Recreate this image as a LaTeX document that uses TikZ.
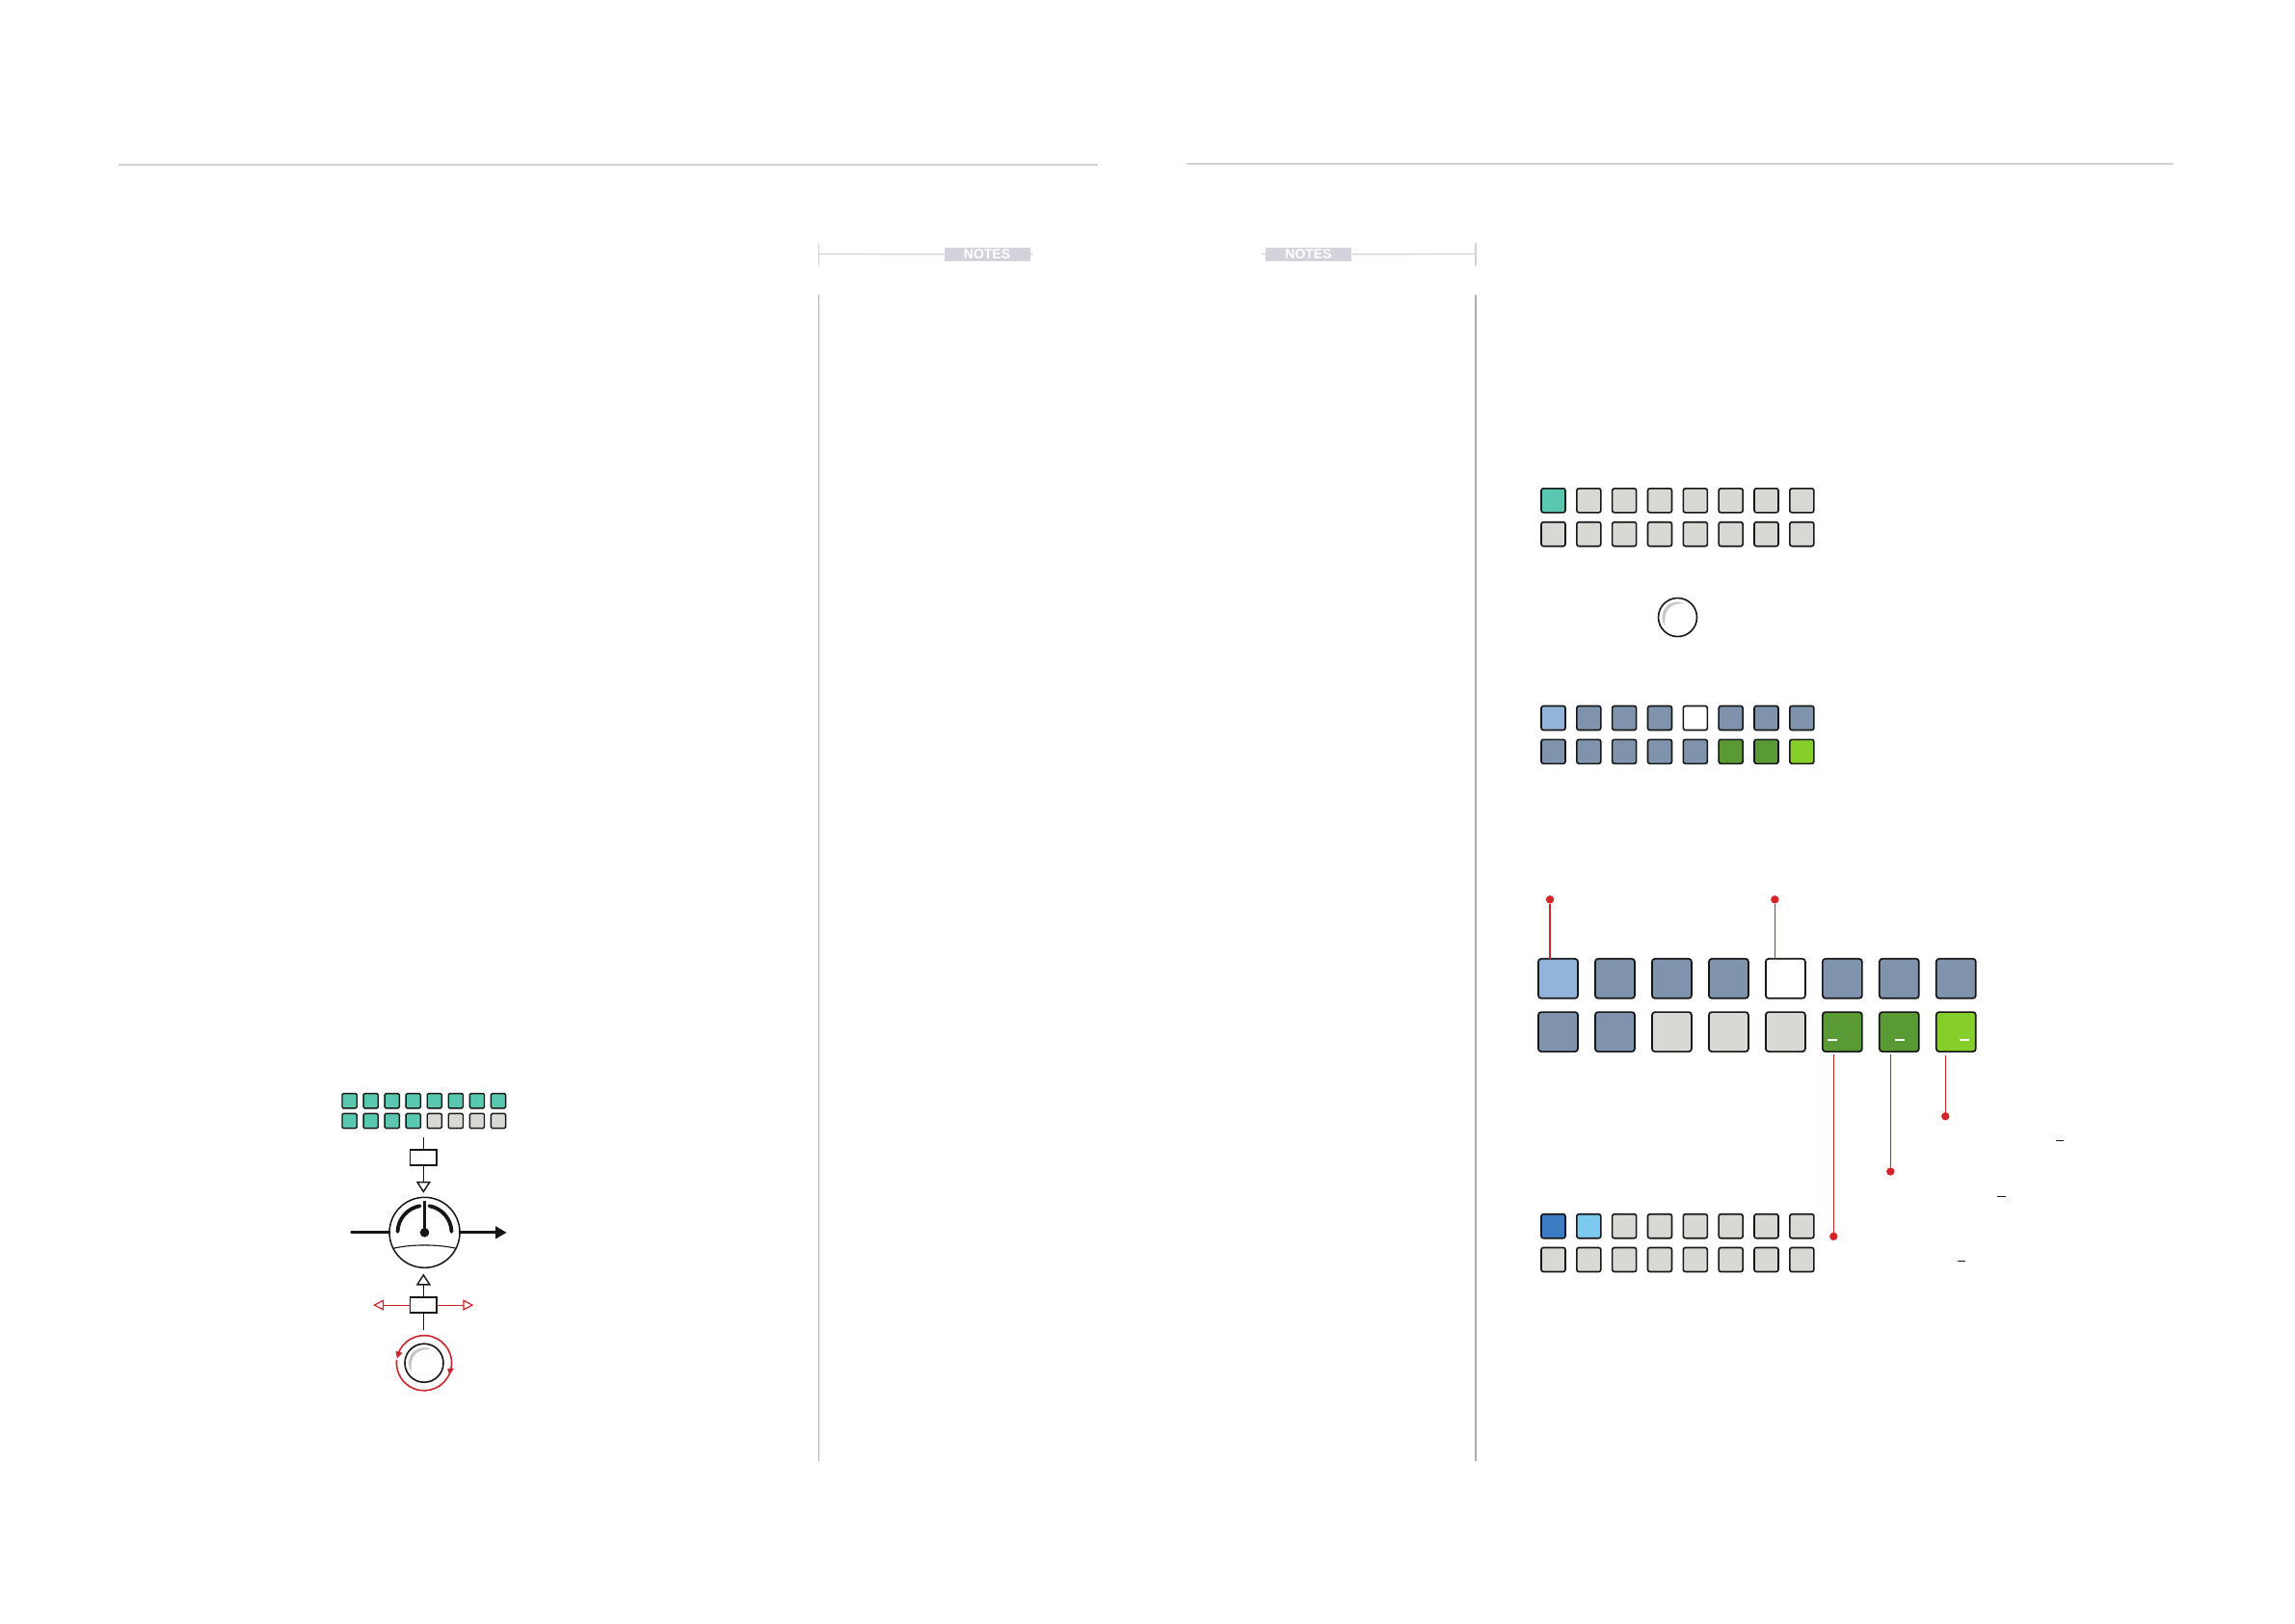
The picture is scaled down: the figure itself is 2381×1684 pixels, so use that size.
\documentclass[tikz,border=0pt]{standalone}
\usepackage{fontspec}
\setmainfont{Liberation Sans}
\definecolor{tealc}{HTML}{5AC8B0}
\definecolor{grayc}{HTML}{D9D8D5}
\definecolor{slatec}{HTML}{7F93AC}
\definecolor{paleb}{HTML}{92B3DA}
\definecolor{greenc}{HTML}{5A9A35}
\definecolor{limec}{HTML}{86CF2B}
\definecolor{bluec}{HTML}{3B7CC4}
\definecolor{skyc}{HTML}{7CCBEF}
\definecolor{redc}{HTML}{C8262C}
\definecolor{pinc}{HTML}{D4242A}
\definecolor{rulec}{HTML}{D2D2D2}
\definecolor{notec}{HTML}{D3D3DC}
\definecolor{creasec}{HTML}{C6C6C6}
\definecolor{inkc}{HTML}{161616}
\tikzset{
  tinysq/.style={draw=inkc,line width=1.4pt,rounded corners=1.3pt,minimum size=15.2pt,inner sep=0pt,outer sep=0pt},
  smallsq/.style={draw=inkc,line width=1.6pt,rounded corners=2.2pt,minimum size=25pt,inner sep=0pt,outer sep=0pt},
  bigsq/.style={draw=inkc,line width=1.7pt,rounded corners=3pt,minimum size=41pt,inner sep=0pt,outer sep=0pt},
  valve/.style={draw=inkc,line width=1.8pt,fill=white,minimum width=27.5pt,minimum height=15.8pt,inner sep=0pt,outer sep=0pt},
  knobc/.style={circle,draw=inkc,line width=1.6pt,fill=white,minimum size=40pt,inner sep=0pt,outer sep=0pt},
  gaugec/.style={circle,draw=inkc,line width=1.5pt,fill=white,minimum size=73pt,inner sep=0pt,outer sep=0pt},
  pin/.style={circle,fill=pinc,minimum size=8.4pt,inner sep=0pt,outer sep=0pt},
  leadthin/.style={draw=redc,line width=1.2pt},
  leadthick/.style={draw=redc,line width=2.4pt},
  notebox/.style={fill=notec,text=white,font=\bfseries\fontsize{14}{14}\selectfont,minimum width=89pt,minimum height=13.7pt,inner sep=0pt,outer sep=0pt},
  rulel/.style={draw=rulec,line width=1.2pt},
  sidel/.style={draw=black!32,line width=1.1pt},
  thinl/.style={draw=inkc,line width=1.1pt},
  heavyl/.style={draw=inkc,line width=2.9pt},
  gaugearc/.style={draw=inkc,line width=3.8pt,line cap=round},
  openhead/.style={draw=inkc,line width=1.4pt,fill=white,line join=miter},
  redhead/.style={draw=redc,line width=1.2pt,fill=white},
  ringl/.style={draw=redc,line width=1.6pt},
  whitedash/.style={draw=white,line width=2.1pt},
  blackdash/.style={draw=inkc,line width=1.1pt},
}
\newcommand{\crescent}[1]{%
  \fill[creasec] ([shift={(215:16pt)}]#1.center) arc[start angle=215,end angle=62,radius=16pt]
    .. controls ([shift={(-7.9pt,15.3pt)}]#1.center) and ([shift={(-14.8pt,7.6pt)}]#1.center)
    .. ([shift={(215:16pt)}]#1.center) -- cycle;}
\begin{document}
\begin{tikzpicture}[x=1pt,y=-1pt]
\useasboundingbox (0,0) rectangle (2381,1684);
% page rules
\coordinate (ruleAa) at (123,171); \coordinate (ruleAb) at (1139,171);
\coordinate (ruleBa) at (1231,170); \coordinate (ruleBb) at (2255,170);
\draw[rulel] (ruleAa) -- (ruleAb);
\draw[rulel] (ruleBa) -- (ruleBb);
% notes headers
\coordinate (tickAt) at (849.7,252); \coordinate (tickAb) at (849.7,275.7);
\coordinate (tickBt) at (1531,252); \coordinate (tickBb) at (1531,275.7);
\coordinate (stubA) at (1071.7,263.5); \coordinate (stubB) at (1309,263.5);
\draw[rulel] (tickAt) -- (tickAb);
\draw[rulel] (tickBt) -- (tickBb);
\node[notebox] (noteA) at (1024,263.8) {NOTES};
\node[notebox] (noteB) at (1357.5,263.8) {NOTES};
\draw[rulel] (tickAt |- stubA) -- (noteA.west);
\draw[rulel] (noteA.east) -- (stubA);
\draw[rulel] (tickBt |- stubB) -- (noteB.east);
\draw[rulel] (noteB.west) -- (stubB);
% column rules
\coordinate (sideAt) at (849.7,306); \coordinate (sideAb) at (849.7,1515.5);
\coordinate (sideBt) at (1531,306); \coordinate (sideBb) at (1531,1515.5);
\draw[sidel] (sideAt) -- (sideAb);
\draw[sidel] (sideBt) -- (sideBb);
\begin{scope}[yshift=-0.8pt]
% left: teal grid
\foreach \c [count=\i from 0] in {tealc,tealc,tealc,tealc,tealc,tealc,tealc,tealc}
  \node[tinysq,fill=\c] (t1-\i) at ({362.6+22.05*\i},1141.4) {};
\foreach \c [count=\i from 0] in {tealc,tealc,tealc,tealc,grayc,grayc,grayc,grayc}
  \node[tinysq,fill=\c] (t2-\i) at ({362.6+22.05*\i},1162.2) {};
% gauge
\node[gaugec] (gauge) at (440.5,1278) {};
\node[valve] (valveT) at (439.3,1200.4) {};
\node[valve] (valveB) at (439.3,1353.3) {};
\coordinate (feedT) at (439.3,1179);
\coordinate (feedB) at (439.3,1378.7);
\coordinate (headT) at (439.3,1225.5);
\coordinate (headB) at (439.3,1332);
\coordinate (inL) at (364.7,1278);
\coordinate (outR) at (515,1278);
\draw[thinl] (feedT) -- (valveT.north);
\draw[thinl] (valveT.south) -- (headT);
\draw[openhead] (433,1225.8) -- (445.8,1225.8) -- (439.3,1235.6) -- cycle;
\draw[thinl] (feedB) -- (valveB.south);
\draw[thinl] (valveB.north) -- (headB);
\draw[openhead] (433,1332) -- (445.8,1332) -- (439.3,1322) -- cycle;
\draw[heavyl,line cap=round] (inL) -- (gauge.west);
\draw[heavyl] (gauge.east) -- (outR);
\fill[inkc] (514,1271.3) -- (525.5,1278) -- (514,1284.7) -- cycle;
\draw[gaugearc] ([shift={(178:28pt)}]gauge.center) arc[start angle=178,end angle=100,radius=28pt];
\draw[gaugearc] ([shift={(80:28pt)}]gauge.center) arc[start angle=80,end angle=2,radius=28pt];
\draw[draw=inkc,line width=3pt] (gauge.center) -- ++(0,-33);
\fill[inkc] (gauge.center) circle[radius=4.8pt];
\draw[draw=inkc,line width=1.1pt] (407.5,1294.5) .. controls (428,1290) and (453,1290) .. (473.5,1294.5);
% red side arrows
\coordinate (redL) at (397.5,1353.3);
\coordinate (redR) at (481,1353.3);
\draw[leadthin] (valveB.west) -- (redL);
\draw[leadthin] (valveB.east) -- (redR);
\draw[redhead] (397.5,1348.5) -- (388.5,1353.3) -- (397.5,1358) -- cycle;
\draw[redhead] (481,1348.5) -- (490,1353.3) -- (481,1358) -- cycle;
% knob with ring
\node[knobc] (knobA) at (440,1413.4) {};
\crescent{knobA}
\coordinate (ringc) at (440,1413.4);
\draw[ringl] ([shift={(163:28.6pt)}]ringc) arc[start angle=163,end angle=-14,radius=28.6pt];
\draw[ringl] ([shift={(-21:28.6pt)}]ringc) arc[start angle=-21,end angle=-186,radius=28.6pt];
\fill[redc] (410.5,1401) -- (417.5,1403) -- (412,1408.5) -- cycle;
\fill[redc] (464,1419.5) -- (471,1419) -- (466.5,1425.5) -- cycle;
\end{scope}
% right: first grid
\foreach \c [count=\i from 0] in {tealc,grayc,grayc,grayc,grayc,grayc,grayc,grayc}
  \node[smallsq,fill=\c] (a1-\i) at ({1611.5+36.83*\i},519.3) {};
\foreach \c [count=\i from 0] in {grayc,grayc,grayc,grayc,grayc,grayc,grayc,grayc}
  \node[smallsq,fill=\c] (a2-\i) at ({1611.5+36.83*\i},554.2) {};
\node[knobc] (knobB) at (1740.5,640.5) {};
\crescent{knobB}
% second grid
\foreach \c [count=\i from 0] in {paleb,slatec,slatec,slatec,white,slatec,slatec,slatec}
  \node[smallsq,fill=\c] (b1-\i) at ({1611.5+36.83*\i},745) {};
\foreach \c [count=\i from 0] in {slatec,slatec,slatec,slatec,slatec,greenc,greenc,limec}
  \node[smallsq,fill=\c] (b2-\i) at ({1611.5+36.83*\i},779.8) {};
% large grid
\foreach \c [count=\i from 0] in {paleb,slatec,slatec,slatec,white,slatec,slatec,slatec}
  \node[bigsq,fill=\c] (c1-\i) at ({1616.5+58.97*\i},1015.3) {};
\foreach \c [count=\i from 0] in {slatec,slatec,grayc,grayc,grayc,greenc,greenc,limec}
  \node[bigsq,fill=\c] (c2-\i) at ({1616.5+58.97*\i},1070.6) {};
\coordinate (wdA) at (1896,1079); \coordinate (wdAe) at (1906,1079);
\coordinate (wdB) at (1966,1079); \coordinate (wdBe) at (1976,1079);
\coordinate (wdC) at (2033.3,1079); \coordinate (wdCe) at (2043,1079);
\draw[whitedash] (wdA) -- (wdAe);
\draw[whitedash] (wdB) -- (wdBe);
\draw[whitedash] (wdC) -- (wdCe);
% pins and leaders
\node[pin] (pinA) at (1608,933.3) {};
\node[pin] (pinB) at (1841.3,933.3) {};
\node[pin] (pinC) at (1902.3,1282.8) {};
\node[pin] (pinD) at (1961.3,1215.5) {};
\node[pin] (pinE) at (2018.3,1158.2) {};
\draw[leadthick] (pinA) -- (pinA |- c1-0.north);
\draw[leadthin] (pinB) -- (pinB |- c1-4.north);
\draw[leadthin,shorten >=2.5pt] (pinC) -- (pinC |- c2-5.south);
\draw[leadthin,shorten >=2.5pt] (pinD) -- (pinD |- c2-6.south);
\draw[leadthin,shorten >=3.5pt] (pinE) -- (pinE |- c2-7.south);
% third grid
\foreach \c [count=\i from 0] in {bluec,skyc,grayc,grayc,grayc,grayc,grayc,grayc}
  \node[smallsq,fill=\c] (d1-\i) at ({1611.5+36.83*\i},1272.2) {};
\foreach \c [count=\i from 0] in {grayc,grayc,grayc,grayc,grayc,grayc,grayc,grayc}
  \node[smallsq,fill=\c] (d2-\i) at ({1611.5+36.83*\i},1307) {};
% small dashes
\coordinate (kdA) at (2133.3,1183.6); \coordinate (kdAe) at (2141,1183.6);
\coordinate (kdB) at (2072.3,1241.6); \coordinate (kdBe) at (2081,1241.6);
\coordinate (kdC) at (2031,1308.6); \coordinate (kdCe) at (2039,1308.6);
\draw[blackdash] (kdA) -- (kdAe);
\draw[blackdash] (kdB) -- (kdBe);
\draw[blackdash] (kdC) -- (kdCe);
\end{tikzpicture}
\end{document}
